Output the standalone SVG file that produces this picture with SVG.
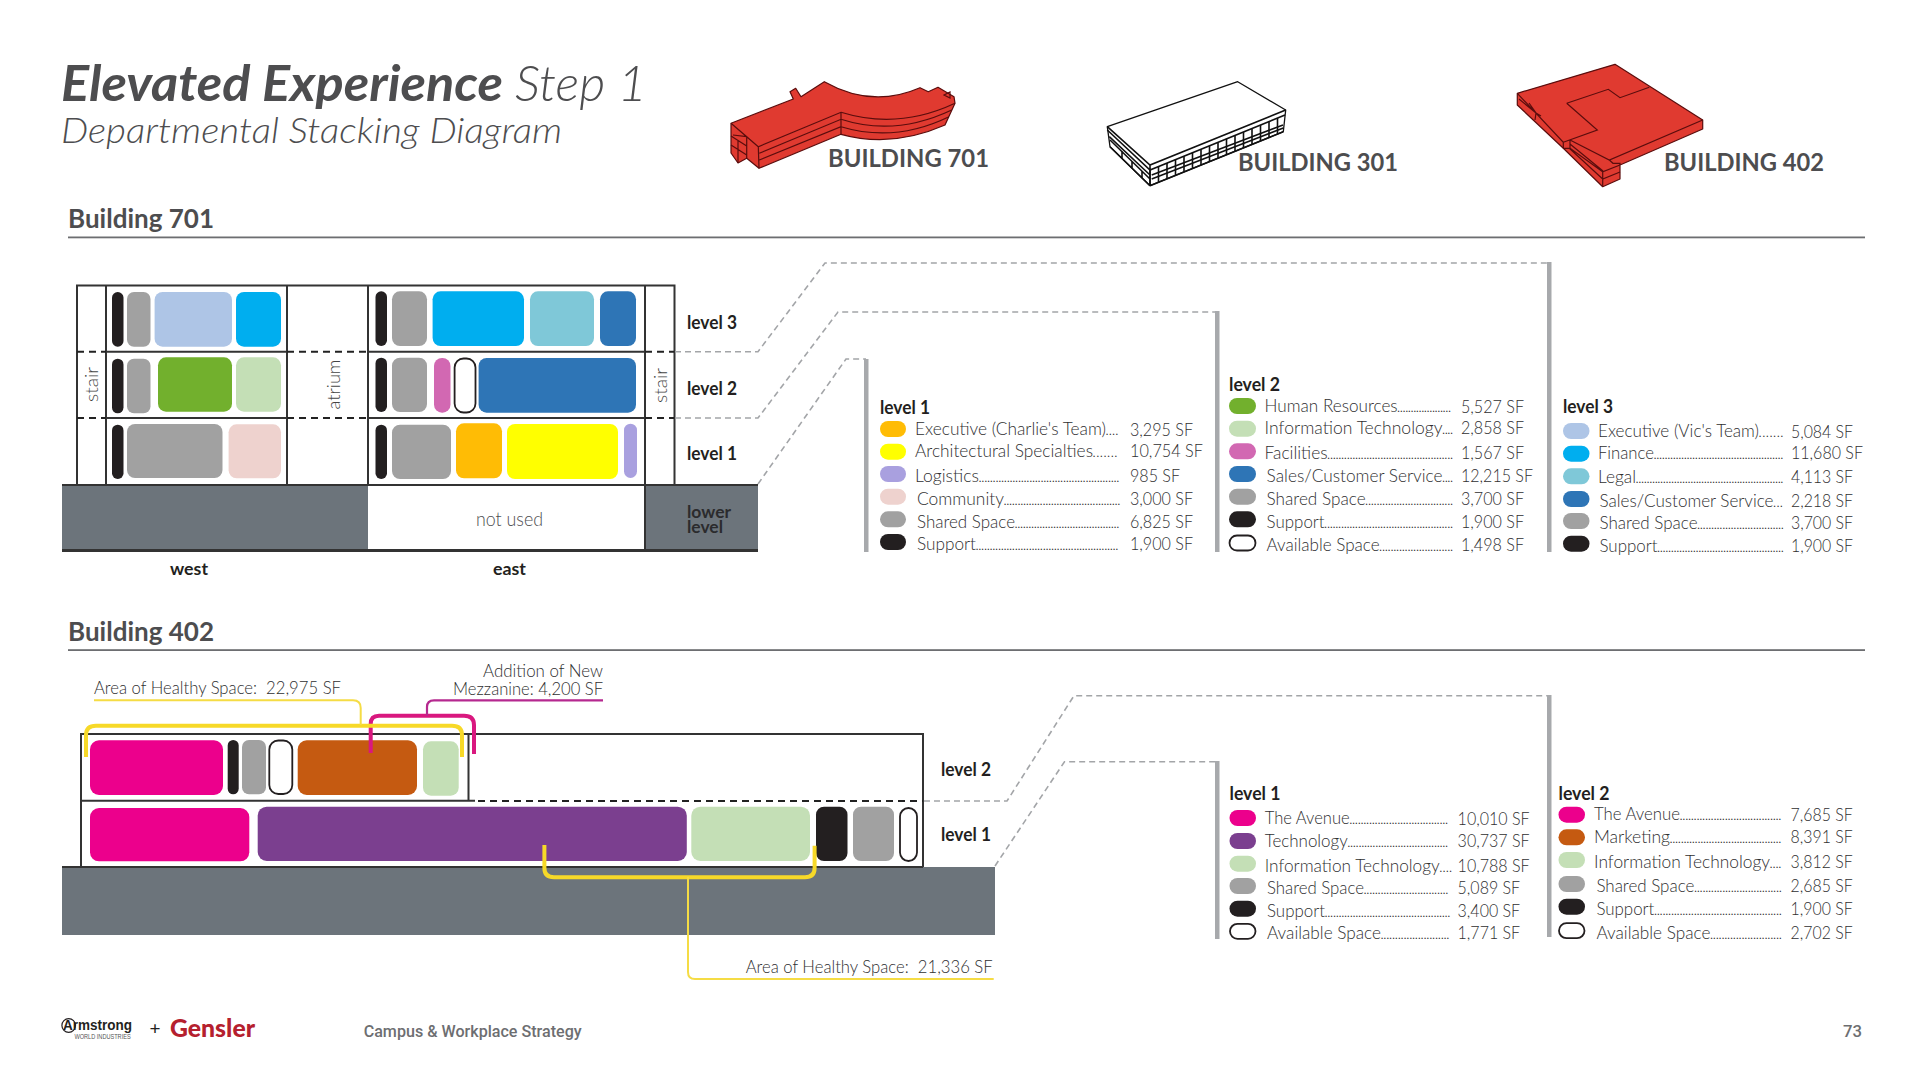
<svg xmlns="http://www.w3.org/2000/svg" width="1920" height="1080" viewBox="0 0 1920 1080">
<style>
text{font-family:"Lato","Open Sans","Noto Sans",sans-serif;fill:#3a3a3c}
.h{font-weight:700;font-size:26px;fill:#4d4d4f}
.bl{font-weight:700;font-size:25px;fill:#4d4d4f}
.lv{font-weight:700;font-size:18px;fill:#231f20}
.l{font-weight:300;font-size:17.5px;fill:#2f2f31}
.d{font-size:9px;font-weight:700}
.rot{font-weight:300;font-size:18px;fill:#444}
.ann{font-weight:300;font-size:18px;fill:#2f2f31}
.f{stroke:#333;stroke-width:2;fill:none}
.fd{stroke:#222;stroke-width:2;fill:none;stroke-dasharray:7 5}
.ld{stroke:#a3a5a8;stroke-width:1.6;fill:none;stroke-dasharray:6 4}
.bar{fill:#a7a9ac}
.k{fill:#231f20}.g{fill:#a1a1a1}.lb{fill:#aec5e6}.c{fill:#00aeef}.t{fill:#7fc8d8}.b{fill:#2e75b6}
.gr{fill:#72b02d}.lg{fill:#c4dfb6}.m{fill:#d268b2}.p{fill:#eed2ce}.o{fill:#ffbc05}.y{fill:#ffff00}
.lav{fill:#a9a0df}.hp{fill:#ec008c}.pu{fill:#7b3f8f}.bo{fill:#c55a11}
.a{fill:#fff;stroke:#231f20;stroke-width:1.8}
.gd{fill:#6c747b}
.bld{fill:#e03a30;stroke:#5a0d0d;stroke-width:1.2;stroke-linejoin:round}
.bldl{fill:none;stroke:#5a0d0d;stroke-width:1.2}
.wh{fill:#fff;stroke:#111;stroke-width:1.3;stroke-linejoin:round}
.whl{fill:none;stroke:#111;stroke-width:1.6}
.yt{stroke:#f7d928;stroke-width:4;fill:none}
.yn{stroke:#f5dc45;stroke-width:2;fill:none}
.mt{stroke:#d9187f;stroke-width:4;fill:none}
.mn{stroke:#b5298f;stroke-width:2.2;fill:none}
</style>

<g id="title">
<text x="61" y="101" font-size="50" font-style="italic" font-weight="700" style="fill:#4d4d4f" textLength="442" lengthAdjust="spacingAndGlyphs">Elevated Experience</text>
<text x="515" y="101" font-size="50" font-style="italic" font-weight="300" style="fill:#4d4d4f" textLength="132" lengthAdjust="spacingAndGlyphs">Step 1</text>
<text x="61" y="143" font-size="35" font-style="italic" font-weight="300" style="fill:#4d4d4f" textLength="501" lengthAdjust="spacingAndGlyphs">Departmental Stacking Diagram</text>
</g>

<g id="building-701-icon">
<path class="bld" d="M731 123.300 V153 L738 163 L746.700 158.300 L759 168.300 L841 134.300 Q892 148.400 945 125 L955 103.300 L954 96.700 L938 87.300 L928.300 91.700 L920 87.700 Q872 108.700 824.300 81.700 L801 96.700 L795.700 88.300 L790 91.700 L793.300 99 Z"/>
<path class="bldl" d="M731 123.300 L746.700 136.700 L733 135 M746.700 136.700 L758.300 146.700 L841 112.300 Q898 130 955 103.300 M759.300 153.300 L841 119.300 Q895 136.800 951.700 110 M759.300 160 L841 126.700 Q895 143 949 116.700 M841 112.300 V134.300 M758.300 146.700 L759 168.300 M746.700 136.700 V158.300 M738 141 V163 M731 136 L746.700 146 M731 145 L746.700 155 M944 95 L950 92 L950 98 Z"/>
<text class="bl" x="828" y="167" textLength="161" lengthAdjust="spacingAndGlyphs">BUILDING 701</text>
</g>

<g id="building-301-icon">
<path class="wh" d="M1107.300 126.700 L1237.700 81.700 L1285.700 110 L1283.300 131.700 L1150 185.700 L1110 146.700 Z"/>
<path class="whl" d="M1107.300 126.700 L1150 165 L1285.700 110 M1107.300 130 L1150 170 L1285 115 M1151.700 175 L1283 125 M1151.700 179 L1283.300 128 M1150 185.700 L1283.300 131.700 M1109.300 136.700 L1150 175 M1110 140 L1150 179 M1110 146.700 L1150 185.700 M1122 151 v7 M1132 161 v7 M1142 171 v7 M1150 165 V185.700"/>
<path class="whl" d="M1150 170 v15.700 m8.500 -19.160 v15.700 m8.500 -19.160 v15.700 m8.500 -19.160 v15.700 m8.500 -19.160 v15.700 m8.500 -19.160 v15.700 m8.500 -19.160 v15.700 m8.500 -19.160 v15.700 m8.500 -19.160 v15.700 m8.500 -19.160 v15.700 m8.500 -19.160 v15.700 m8.500 -19.160 v15.700 m8.500 -19.160 v15.700 m8.500 -19.160 v15.700 m8.500 -19.160 v15.700 m8.500 -19.160 v15.700"/>
<text class="bl" x="1238" y="171" textLength="160" lengthAdjust="spacingAndGlyphs">BUILDING 301</text>
</g>

<g id="building-402-icon">
<path class="bld" d="M1517.300 93.300 L1615 64.300 L1702.700 120 V129 L1620 165 V179 L1602.700 186.700 L1563.300 148.300 L1517.300 105 Z"/>
<path class="bldl" d="M1517.300 93.300 L1563.300 142.300 V148.300 M1566.700 103.300 L1608.300 89.300 L1620 97.700 L1649.300 87.300 M1566.700 103.300 L1597.300 130 L1563.300 142.300 M1702.700 120 L1609.300 160 L1570 140 M1609.300 160 L1613 163.300 L1620 163.300 L1620 165 M1570 140 V148.300 L1602.700 171.700 L1620 165 M1570 144 L1603 171 M1569.300 148.300 L1602.700 179 L1620 172 M1602.700 171.700 V186.700 M1563.300 148.300 H1570 M1519 99 L1536 113 L1541 116 M1529 103 L1536 113 L1535 120"/>
<text class="bl" x="1664" y="171" textLength="160" lengthAdjust="spacingAndGlyphs">BUILDING 402</text>
</g>

<g id="heading-701">
<text class="h" x="68" y="228" textLength="146" lengthAdjust="spacingAndGlyphs">Building 701</text>
<rect x="68" y="236.500" width="1797" height="1.800" fill="#6d6e71"/>
</g>

<g id="section-701">
<rect class="gd" x="62" y="485" width="306" height="66"/>
<rect class="gd" x="645" y="485" width="113" height="66"/>
<path class="f" d="M77 485 V285.500 H674.500 V485 M106 285.500 V485 M287 285.500 V485 M368 285.500 V485 M645 285.500 V551 M62 485 H758"/>
<path class="f" d="M106 351.700 H287 M368 351.700 H645 M106 418 H287 M368 418 H645"/>
<path class="f" style="stroke-width:3" d="M62 550.500 H758"/>
<path class="fd" d="M77 351.700 H106 M287 351.700 H368 M645 351.700 H674 M77 418 H106 M287 418 H368 M645 418 H674"/>
<g id="w3">
<rect class="k" x="112" y="292" width="11.500" height="54.700" rx="5.700"/><rect class="g" x="127" y="292" width="23.500" height="54.700" rx="7"/><rect class="lb" x="154.600" y="292" width="77.400" height="54.700" rx="8"/><rect class="c" x="236" y="292" width="45" height="54.700" rx="8"/>
</g>
<g id="e3">
<rect class="k" x="375.500" y="291.300" width="11.500" height="54.700" rx="5.700"/><rect class="g" x="392" y="291.300" width="35" height="54.700" rx="8"/><rect class="c" x="432.600" y="291.300" width="91.400" height="54.700" rx="8"/><rect class="t" x="530" y="291.300" width="64" height="54.700" rx="8"/><rect class="b" x="600" y="291.300" width="36" height="54.700" rx="8"/>
</g>
<g id="w2">
<rect class="k" x="112" y="358.700" width="11.500" height="54.600" rx="5.700"/><rect class="g" x="127" y="358.700" width="23.500" height="54.600" rx="7"/><rect class="gr" x="158" y="357.300" width="74" height="54.400" rx="8"/><rect class="lg" x="236" y="357.300" width="45" height="54.400" rx="8"/>
</g>
<g id="e2">
<rect class="k" x="375.500" y="357.700" width="11.500" height="54.300" rx="5.700"/><rect class="g" x="392" y="357.700" width="35" height="54.300" rx="8"/><rect class="m" x="434" y="358" width="16.500" height="54.700" rx="8"/><rect class="a" x="454.600" y="358.500" width="20.900" height="54" rx="9"/><rect class="b" x="478.600" y="358" width="157.400" height="54.700" rx="8"/>
</g>
<g id="w1">
<rect class="k" x="112" y="424.700" width="11.500" height="54.300" rx="5.700"/><rect class="g" x="127" y="424" width="95.500" height="54" rx="8"/><rect class="p" x="228.600" y="424.300" width="52.400" height="54" rx="8"/>
</g>
<g id="e1">
<rect class="k" x="375.500" y="424.700" width="11.500" height="54.300" rx="5.700"/><rect class="g" x="392" y="424.700" width="59" height="54.300" rx="8"/><rect class="o" x="456" y="423.300" width="46" height="55" rx="8"/><rect class="y" x="507" y="424" width="111" height="55" rx="8"/><rect class="lav" x="624" y="423.700" width="13" height="54.300" rx="6.500"/>
</g>
<text class="rot" transform="translate(98 402) rotate(-90)" textLength="35" lengthAdjust="spacingAndGlyphs">stair</text>
<text class="rot" transform="translate(340 409.500) rotate(-90)" textLength="50" lengthAdjust="spacingAndGlyphs">atrium</text>
<text class="rot" transform="translate(667 403) rotate(-90)" textLength="35" lengthAdjust="spacingAndGlyphs">stair</text>
<text class="lv" x="687" y="329" textLength="50" lengthAdjust="spacingAndGlyphs">level 3</text>
<text class="lv" x="687" y="395" textLength="50" lengthAdjust="spacingAndGlyphs">level 2</text>
<text class="lv" x="687" y="459.500" textLength="50" lengthAdjust="spacingAndGlyphs">level 1</text>
<text x="687" y="518" font-size="17" font-weight="700" style="fill:#2b2b2d" textLength="44" lengthAdjust="spacingAndGlyphs">lower</text>
<text x="687" y="532.700" font-size="17" font-weight="700" style="fill:#2b2b2d" textLength="36" lengthAdjust="spacingAndGlyphs">level</text>
<text x="476" y="526" font-size="19" font-weight="300" style="fill:#4d4d4f" textLength="67" lengthAdjust="spacingAndGlyphs">not used</text>
<text x="170" y="574.500" font-size="17" font-weight="700" style="fill:#231f20" textLength="38" lengthAdjust="spacingAndGlyphs">west</text>
<text x="493" y="574.500" font-size="17" font-weight="700" style="fill:#231f20" textLength="33" lengthAdjust="spacingAndGlyphs">east</text>
</g>

<g id="connectors">
<path class="ld" d="M675 351.700 H758 L825 263 H1549"/>
<path class="ld" d="M675 418 H758 L838 312 H1217"/>
<path class="ld" d="M758 484 L846 359 H866"/>
<path class="ld" d="M924 801 H1007 L1074 695.700 H1549"/>
<path class="ld" d="M995 866 L1064.500 761.700 H1217"/>
<rect class="bar" x="1547" y="262" width="4.500" height="290"/>
<rect class="bar" x="1215" y="311" width="4.500" height="241"/>
<rect class="bar" x="864" y="359" width="4.500" height="193"/>
<rect class="bar" x="1547" y="695" width="4.500" height="242"/>
<rect class="bar" x="1215" y="761" width="4.500" height="178"/>
</g>

<g id="legend-701-level-1">
<text class="lv" x="880" y="413.500" textLength="50" lengthAdjust="spacingAndGlyphs">level 1</text>
<rect class="o" x="880" y="421" width="26" height="16" rx="8"/><rect class="y" x="880" y="443.700" width="26" height="16" rx="8"/><rect class="lav" x="880" y="466" width="26" height="16" rx="8"/><rect class="p" x="880" y="488.700" width="26" height="16" rx="8"/><rect class="g" x="880" y="511.300" width="26" height="16" rx="8"/><rect class="k" x="880" y="534" width="26" height="16" rx="8"/>
<text class="l" x="915" y="435"><tspan textLength="191" lengthAdjust="spacingAndGlyphs">Executive (Charlie's Team)</tspan><tspan class="d" textLength="12">....</tspan></text>
<text class="l" x="915" y="457.300"><tspan textLength="178" lengthAdjust="spacingAndGlyphs">Architectural Specialties</tspan><tspan class="d" textLength="24">.......</tspan></text>
<text class="l" x="915" y="482"><tspan textLength="64" lengthAdjust="spacingAndGlyphs">Logistics</tspan><tspan class="d" textLength="140">..................................................</tspan></text>
<text class="l" x="917" y="505"><tspan textLength="87" lengthAdjust="spacingAndGlyphs">Community</tspan><tspan class="d" textLength="116">..........................................</tspan></text>
<text class="l" x="917" y="527.700"><tspan textLength="98" lengthAdjust="spacingAndGlyphs">Shared Space</tspan><tspan class="d" textLength="104">......................................</tspan></text>
<text class="l" x="917" y="550"><tspan textLength="59" lengthAdjust="spacingAndGlyphs">Support</tspan><tspan class="d" textLength="142">...................................................</tspan></text>
<text class="l" x="1130" y="436" textLength="63" lengthAdjust="spacingAndGlyphs">3,295 SF</text>
<text class="l" x="1130" y="457.300" textLength="73" lengthAdjust="spacingAndGlyphs">10,754 SF</text>
<text class="l" x="1130" y="482" textLength="50" lengthAdjust="spacingAndGlyphs">985 SF</text>
<text class="l" x="1130" y="505" textLength="63" lengthAdjust="spacingAndGlyphs">3,000 SF</text>
<text class="l" x="1130" y="527.700" textLength="63" lengthAdjust="spacingAndGlyphs">6,825 SF</text>
<text class="l" x="1130" y="550" textLength="63" lengthAdjust="spacingAndGlyphs">1,900 SF</text>
</g>

<g id="legend-701-level-2">
<text class="lv" x="1229" y="390.500" textLength="51" lengthAdjust="spacingAndGlyphs">level 2</text>
<rect class="gr" x="1229" y="398" width="27" height="16" rx="8"/><rect class="lg" x="1229" y="420.700" width="27" height="16" rx="8"/><rect class="m" x="1229" y="443.300" width="27" height="16" rx="8"/><rect class="b" x="1229" y="466" width="27" height="16" rx="8"/><rect class="g" x="1229" y="488.700" width="27" height="16" rx="8"/><rect class="k" x="1229" y="511.300" width="27" height="16" rx="8"/><rect class="a" x="1229.500" y="535.500" width="26" height="15" rx="7.500"/>
<text class="l" x="1264.600" y="411.700"><tspan textLength="133" lengthAdjust="spacingAndGlyphs">Human Resources</tspan><tspan class="d" textLength="53">....................</tspan></text>
<text class="l" x="1264.600" y="434"><tspan textLength="178" lengthAdjust="spacingAndGlyphs">Information Technology</tspan><tspan class="d" textLength="10">....</tspan></text>
<text class="l" x="1264.600" y="459"><tspan textLength="63" lengthAdjust="spacingAndGlyphs">Facilities</tspan><tspan class="d" textLength="125">.............................................</tspan></text>
<text class="l" x="1266.600" y="482"><tspan textLength="176" lengthAdjust="spacingAndGlyphs">Sales/Customer Service</tspan><tspan class="d" textLength="10">....</tspan></text>
<text class="l" x="1266.600" y="505"><tspan textLength="99" lengthAdjust="spacingAndGlyphs">Shared Space</tspan><tspan class="d" textLength="87">...............................</tspan></text>
<text class="l" x="1266.600" y="527.700"><tspan textLength="58" lengthAdjust="spacingAndGlyphs">Support</tspan><tspan class="d" textLength="128">..............................................</tspan></text>
<text class="l" x="1266.600" y="551"><tspan textLength="113" lengthAdjust="spacingAndGlyphs">Available Space</tspan><tspan class="d" textLength="73">..........................</tspan></text>
<text class="l" x="1461" y="412.700" textLength="63" lengthAdjust="spacingAndGlyphs">5,527 SF</text>
<text class="l" x="1461" y="434" textLength="63" lengthAdjust="spacingAndGlyphs">2,858 SF</text>
<text class="l" x="1461" y="459" textLength="63" lengthAdjust="spacingAndGlyphs">1,567 SF</text>
<text class="l" x="1461" y="482" textLength="72" lengthAdjust="spacingAndGlyphs">12,215 SF</text>
<text class="l" x="1461" y="505" textLength="63" lengthAdjust="spacingAndGlyphs">3,700 SF</text>
<text class="l" x="1461" y="527.700" textLength="63" lengthAdjust="spacingAndGlyphs">1,900 SF</text>
<text class="l" x="1461" y="551" textLength="63" lengthAdjust="spacingAndGlyphs">1,498 SF</text>
</g>

<g id="legend-701-level-3">
<text class="lv" x="1563" y="412.800" textLength="50" lengthAdjust="spacingAndGlyphs">level 3</text>
<rect class="lb" x="1563" y="423" width="26.500" height="16" rx="8"/><rect class="c" x="1563" y="445.700" width="26.500" height="16" rx="8"/><rect class="t" x="1563" y="468.300" width="26.500" height="16" rx="8"/><rect class="b" x="1563" y="491" width="26.500" height="16" rx="8"/><rect class="g" x="1563" y="513" width="26.500" height="16" rx="8"/><rect class="k" x="1563" y="535.700" width="26.500" height="16" rx="8"/>
<text class="l" x="1598" y="436.700"><tspan textLength="161" lengthAdjust="spacingAndGlyphs">Executive (Vic's Team)</tspan><tspan class="d" textLength="24">.......</tspan></text>
<text class="l" x="1598" y="459"><tspan textLength="56" lengthAdjust="spacingAndGlyphs">Finance</tspan><tspan class="d" textLength="129">...............................................</tspan></text>
<text class="l" x="1598" y="483"><tspan textLength="38" lengthAdjust="spacingAndGlyphs">Legal</tspan><tspan class="d" textLength="147">......................................................</tspan></text>
<text class="l" x="1599.500" y="506.700"><tspan textLength="174" lengthAdjust="spacingAndGlyphs">Sales/Customer Service</tspan><tspan class="d" textLength="9">...</tspan></text>
<text class="l" x="1599.500" y="529.300"><tspan textLength="98" lengthAdjust="spacingAndGlyphs">Shared Space</tspan><tspan class="d" textLength="86">...............................</tspan></text>
<text class="l" x="1599.500" y="552"><tspan textLength="58" lengthAdjust="spacingAndGlyphs">Support</tspan><tspan class="d" textLength="126">..............................................</tspan></text>
<text class="l" x="1791" y="437.500" textLength="62" lengthAdjust="spacingAndGlyphs">5,084 SF</text>
<text class="l" x="1791" y="459" textLength="72" lengthAdjust="spacingAndGlyphs">11,680 SF</text>
<text class="l" x="1791" y="483" textLength="62" lengthAdjust="spacingAndGlyphs">4,113 SF</text>
<text class="l" x="1791" y="506.700" textLength="62" lengthAdjust="spacingAndGlyphs">2,218 SF</text>
<text class="l" x="1791" y="529.300" textLength="62" lengthAdjust="spacingAndGlyphs">3,700 SF</text>
<text class="l" x="1791" y="552" textLength="62" lengthAdjust="spacingAndGlyphs">1,900 SF</text>
</g>

<g id="heading-402">
<text class="h" x="68" y="641" textLength="146" lengthAdjust="spacingAndGlyphs">Building 402</text>
<rect x="68" y="649.200" width="1797" height="1.800" fill="#6d6e71"/>
</g>

<g id="section-402">
<rect class="gd" x="62" y="867" width="933" height="68"/>
<path class="f" d="M81 867 V734 H923 V867 M468.500 734 V800.700 M81 800.700 H475 M62 867 H923"/>
<path class="fd" d="M478 801 H923"/>
<g id="b402-l2">
<rect class="hp" x="90" y="740.300" width="133" height="54.700" rx="9"/><rect class="k" x="227.700" y="740" width="11" height="54.300" rx="5.500"/><rect class="g" x="242" y="740" width="24" height="54.300" rx="7"/><rect class="a" x="269.300" y="740.500" width="23" height="53.500" rx="9"/><rect class="bo" x="297.700" y="740.300" width="119.300" height="54.700" rx="9"/><rect class="lg" x="423" y="741.300" width="35.700" height="54.400" rx="8"/>
</g>
<g id="b402-l1">
<rect class="hp" x="90" y="808" width="159.300" height="53.300" rx="9"/><rect class="pu" x="257.700" y="806.700" width="429.100" height="54.300" rx="9"/><rect class="lg" x="691.300" y="806.700" width="118.700" height="54.300" rx="9"/><rect class="k" x="816" y="806.700" width="31.500" height="54.300" rx="8"/><rect class="g" x="853" y="806.700" width="41" height="54.300" rx="8"/><rect class="a" x="900" y="808" width="17" height="53" rx="8.500"/>
</g>
<path class="mt" d="M370.700 753 V724 Q370.700 715.700 379 715.700 H464 Q474 715.700 474 725 V754"/>
<path class="yt" d="M86 757 V735 Q86 725.700 96 725.700 H452 Q462 725.700 462 735 V757"/>
<path class="yt" d="M544.400 845 V868 Q544.400 877.300 554 877.300 H805 Q814.600 877.300 814.600 868 V845.700"/>
<path class="yn" d="M94 700.300 H353 Q360.700 700.300 360.700 708 V725"/>
<path class="yn" d="M688 877 V972 Q688 979 695 979 H993.700"/>
<path class="mn" d="M427 715.700 V707 Q427 700.300 434 700.300 H603"/>
<text class="ann" x="94" y="693.500" textLength="247" lengthAdjust="spacingAndGlyphs" xml:space="preserve">Area of Healthy Space:  22,975 SF</text>
<text class="ann" x="483" y="677" textLength="120" lengthAdjust="spacingAndGlyphs">Addition of New</text>
<text class="ann" x="453" y="694.500" textLength="150" lengthAdjust="spacingAndGlyphs">Mezzanine: 4,200 SF</text>
<text class="ann" x="745.700" y="972.700" textLength="247" lengthAdjust="spacingAndGlyphs" xml:space="preserve">Area of Healthy Space:  21,336 SF</text>
<text class="lv" x="941" y="775.700" textLength="50" lengthAdjust="spacingAndGlyphs">level 2</text>
<text class="lv" x="941" y="841.300" textLength="50" lengthAdjust="spacingAndGlyphs">level 1</text>
</g>

<g id="legend-402-level-1">
<text class="lv" x="1229.500" y="800" textLength="51" lengthAdjust="spacingAndGlyphs">level 1</text>
<rect class="hp" x="1229.500" y="810" width="26.500" height="16" rx="8"/><rect class="pu" x="1229.500" y="833" width="26.500" height="16" rx="8"/><rect class="lg" x="1229.500" y="855.700" width="26.500" height="16" rx="8"/><rect class="g" x="1229.500" y="878" width="26.500" height="16" rx="8"/><rect class="k" x="1229.500" y="900.700" width="26.500" height="16" rx="8"/><rect class="a" x="1230" y="923.800" width="25.500" height="15" rx="7.500"/>
<text class="l" x="1264.700" y="823.700"><tspan textLength="85" lengthAdjust="spacingAndGlyphs">The Avenue</tspan><tspan class="d" textLength="98">...................................</tspan></text>
<text class="l" x="1264.700" y="846.700"><tspan textLength="83" lengthAdjust="spacingAndGlyphs">Technology</tspan><tspan class="d" textLength="100">....................................</tspan></text>
<text class="l" x="1264.700" y="871.700"><tspan textLength="175" lengthAdjust="spacingAndGlyphs">Information Technology</tspan><tspan class="d" textLength="12">....</tspan></text>
<text class="l" x="1267" y="894.300"><tspan textLength="97" lengthAdjust="spacingAndGlyphs">Shared Space</tspan><tspan class="d" textLength="84">..............................</tspan></text>
<text class="l" x="1267" y="916.700"><tspan textLength="58" lengthAdjust="spacingAndGlyphs">Support</tspan><tspan class="d" textLength="125">.............................................</tspan></text>
<text class="l" x="1267" y="939.300"><tspan textLength="114" lengthAdjust="spacingAndGlyphs">Available Space</tspan><tspan class="d" textLength="68">........................</tspan></text>
<text class="l" x="1457.600" y="825" textLength="72" lengthAdjust="spacingAndGlyphs">10,010 SF</text>
<text class="l" x="1457.600" y="846.700" textLength="72" lengthAdjust="spacingAndGlyphs">30,737 SF</text>
<text class="l" x="1457.600" y="871.700" textLength="72" lengthAdjust="spacingAndGlyphs">10,788 SF</text>
<text class="l" x="1457.600" y="894.300" textLength="62.500" lengthAdjust="spacingAndGlyphs">5,089 SF</text>
<text class="l" x="1457.600" y="916.700" textLength="62.500" lengthAdjust="spacingAndGlyphs">3,400 SF</text>
<text class="l" x="1457.600" y="939.300" textLength="62.500" lengthAdjust="spacingAndGlyphs">1,771 SF</text>
</g>

<g id="legend-402-level-2">
<text class="lv" x="1558.500" y="799.800" textLength="51" lengthAdjust="spacingAndGlyphs">level 2</text>
<rect class="hp" x="1558.500" y="806.700" width="26.500" height="16" rx="8"/><rect class="bo" x="1558.500" y="829.300" width="26.500" height="16" rx="8"/><rect class="lg" x="1558.500" y="852" width="26.500" height="16" rx="8"/><rect class="g" x="1558.500" y="876" width="26.500" height="16" rx="8"/><rect class="k" x="1558.500" y="898.700" width="26.500" height="16" rx="8"/><rect class="a" x="1559" y="923.200" width="25.500" height="15" rx="7.500"/>
<text class="l" x="1594" y="820.300"><tspan textLength="86" lengthAdjust="spacingAndGlyphs">The Avenue</tspan><tspan class="d" textLength="101">....................................</tspan></text>
<text class="l" x="1594" y="843.300"><tspan textLength="76" lengthAdjust="spacingAndGlyphs">Marketing</tspan><tspan class="d" textLength="111">........................................</tspan></text>
<text class="l" x="1594" y="868.300"><tspan textLength="176" lengthAdjust="spacingAndGlyphs">Information Technology</tspan><tspan class="d" textLength="11">....</tspan></text>
<text class="l" x="1596.400" y="892.300"><tspan textLength="98" lengthAdjust="spacingAndGlyphs">Shared Space</tspan><tspan class="d" textLength="87">...............................</tspan></text>
<text class="l" x="1596.400" y="915"><tspan textLength="58" lengthAdjust="spacingAndGlyphs">Support</tspan><tspan class="d" textLength="127">.............................................</tspan></text>
<text class="l" x="1596.400" y="939.300"><tspan textLength="114" lengthAdjust="spacingAndGlyphs">Available Space</tspan><tspan class="d" textLength="71">.........................</tspan></text>
<text class="l" x="1790.600" y="821" textLength="62" lengthAdjust="spacingAndGlyphs">7,685 SF</text>
<text class="l" x="1790.600" y="843.300" textLength="62" lengthAdjust="spacingAndGlyphs">8,391 SF</text>
<text class="l" x="1790.600" y="868.300" textLength="62" lengthAdjust="spacingAndGlyphs">3,812 SF</text>
<text class="l" x="1790.600" y="892.300" textLength="62" lengthAdjust="spacingAndGlyphs">2,685 SF</text>
<text class="l" x="1790.600" y="915" textLength="62" lengthAdjust="spacingAndGlyphs">1,900 SF</text>
<text class="l" x="1790.600" y="939.300" textLength="62" lengthAdjust="spacingAndGlyphs">2,702 SF</text>
</g>

<g id="footer">
<circle cx="68.700" cy="1025.500" r="6.800" fill="none" stroke="#231f20" stroke-width="1.200"/>
<text x="63" y="1030" font-size="14" font-weight="700" style="fill:#231f20;font-family:'Liberation Sans',sans-serif" textLength="69" lengthAdjust="spacingAndGlyphs">Armstrong</text>
<text x="74.400" y="1038.500" font-size="6.500" style="fill:#555;font-family:'Liberation Sans',sans-serif" textLength="56.300" lengthAdjust="spacingAndGlyphs">WORLD INDUSTRIES</text>
<text x="149.500" y="1035" font-size="18" style="fill:#231f20" textLength="11" lengthAdjust="spacingAndGlyphs">+</text>
<text x="170" y="1036.500" font-size="25" font-weight="900" style="fill:#b5202e" textLength="85" lengthAdjust="spacingAndGlyphs">Gensler</text>
<text x="363.700" y="1036.700" font-size="16" font-weight="500" style="fill:#6d6e71;font-family:Roboto,sans-serif" textLength="218" lengthAdjust="spacingAndGlyphs">Campus &amp; Workplace Strategy</text>
<text x="1843" y="1037" font-size="16" font-weight="500" style="fill:#6d6e71;font-family:Roboto,sans-serif" textLength="19" lengthAdjust="spacingAndGlyphs">73</text>
</g>
</svg>
